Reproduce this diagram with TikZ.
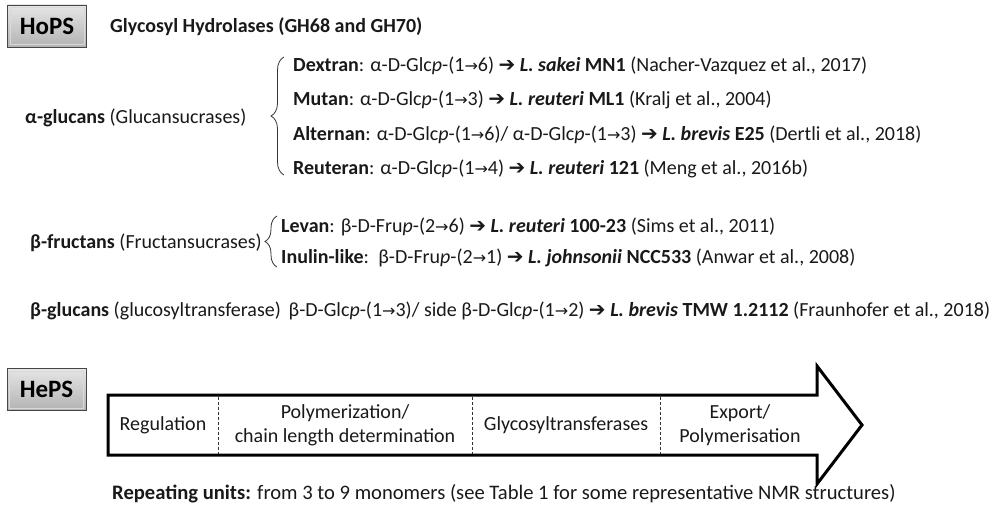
\documentclass[tikz,border=0pt]{standalone}
\usepackage{fontspec}
\setmainfont{Carlito}
\newfontfamily\dv[Scale=0.8]{DejaVu Sans}
\newfontfamily\dvb[Scale=1.0]{DejaVu Sans Bold}
\usetikzlibrary{decorations.pathreplacing}
\newcommand\rto{{\dv →}}
\newcommand\barr{{\dvb ➔}}
\tikzset{
  txt/.style={inner sep=0pt, font=\fontsize{20}{24}\selectfont, text=black!90},
  psbox/.style={draw=gray!55!black, line width=0.8pt, top color=gray!20, bottom color=gray!60,
    minimum width=79pt, minimum height=42pt, inner sep=0pt, font=\fontsize{25}{25}\selectfont\bfseries},
  cell/.style={inner sep=0pt, align=center, font=\fontsize{20}{24}\selectfont, text=black!90},
  divider/.style={densely dashed, line width=0.7pt, black!80},
  bracestyle/.style={decorate, decoration={brace, amplitude=13pt}, line width=0.8pt, black!80}
}
\begin{document}
\begin{tikzpicture}[x=1pt,y=-1pt]
\useasboundingbox (0,0) rectangle (992,508);
% HoPS
\node[psbox] (hops) at (47,26) {HoPS};
\draw[white!70!gray, line width=0.6pt] ([shift={(3pt,-3pt)}]hops.north west) rectangle ([shift={(-3pt,3pt)}]hops.south east);
\node[txt, anchor=base west, font=\fontsize{20}{24}\selectfont\bfseries] (gh) at (110,33) {Glycosyl Hydrolases (GH68 and GH70)};
% alpha-glucans
\node[txt, anchor=base west] (ag) at (25,123) {\textbf{α-glucans} (Glucansucrases)};
\coordinate (ab1) at (284,175);
\coordinate (ab2) at (284,57);
\draw[bracestyle] (ab1) -- (ab2);
\node[txt, anchor=base west] (dex) at (293,72) {\textbf{Dextran}: α-D-Glc\textit{p}-(1\rto6) \barr{} \textbf{\textit{L. sakei} MN1} (Nacher-Vazquez et al., 2017)};
\node[txt, anchor=base west] (mut) at (293,106) {\textbf{Mutan}: α-D-Glc\textit{p}-(1\rto3) \barr{} \textbf{\textit{L. reuteri} ML1} (Kralj et al., 2004)};
\node[txt, anchor=base west] (alt) at (293,140) {\textbf{Alternan}: α-D-Glc\textit{p}-(1\rto6)/ α-D-Glc\textit{p}-(1\rto3) \barr{} \textbf{\textit{L. brevis} E25} (Dertli et al., 2018)};
\node[txt, anchor=base west] (reu) at (293,174) {\textbf{Reuteran}: α-D-Glc\textit{p}-(1\rto4) \barr{} \textbf{\textit{L. reuteri} 121} (Meng et al., 2016b)};
% beta-fructans
\node[txt, anchor=base west] (bf) at (30,248) {\textbf{β-fructans} (Fructansucrases)};
\coordinate (bb1) at (277,267);
\coordinate (bb2) at (277,216);
\draw[bracestyle, decoration={amplitude=12pt}] (bb1) -- (bb2);
\node[txt, anchor=base west] (lev) at (281,232) {\textbf{Levan}: β-D-Fru\textit{p}-(2\rto6) \barr{} \textbf{\textit{L. reuteri} 100-23} (Sims et al., 2011)};
\node[txt, anchor=base west] (inu) at (281,263) {\textbf{Inulin-like}:\, β-D-Fru\textit{p}-(2\rto1) \barr{} \textbf{\textit{L. johnsonii} NCC533} (Anwar et al., 2008)};
% beta-glucans
\node[txt, anchor=base west] (bg) at (30,316) {\textbf{β-glucans} (glucosyltransferase)\, β-D-Glc\textit{p}-(1\rto3)/ side β-D-Glc\textit{p}-(1\rto2) \barr{} \textbf{\textit{L. brevis} TMW 1.2112} (Fraunhofer et al., 2018)};
% HePS
\node[psbox] (heps) at (46.5,389.5) {HePS};
\draw[white!70!gray, line width=0.6pt] ([shift={(3pt,-3pt)}]heps.north west) rectangle ([shift={(-3pt,3pt)}]heps.south east);
% big arrow
\draw[line width=3pt, line join=miter] (108,395) -- (817,395) -- (817,366) -- (862,425) -- (817,484) -- (817,455) -- (108,455) -- cycle;
\draw[divider] (218,396.5) -- (218,453.5);
\draw[divider] (472,396.5) -- (472,453.5);
\draw[divider] (660,396.5) -- (660,453.5);
\node[cell] (reg) at (163,425) {Regulation};
\node[cell] (pol) at (345,425) {Polymerization/\\chain length determination};
\node[cell] (gly) at (566,425) {Glycosyltransferases};
\node[cell] (exp) at (740,425) {Export/\\Polymerisation};
\node[txt, anchor=base west, font=\fontsize{20.6}{24}\selectfont] (rep) at (112,499) {\textbf{Repeating units:} from 3 to 9 monomers (see Table 1 for some representative NMR structures)};
\end{tikzpicture}
\end{document}
